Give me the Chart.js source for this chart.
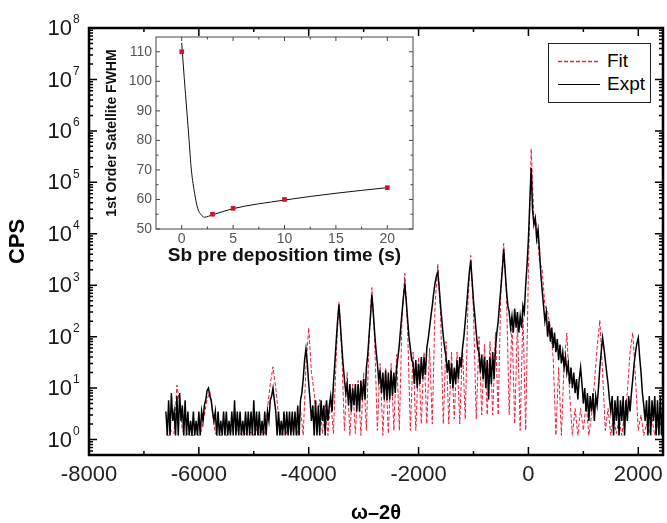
<!DOCTYPE html>
<html>
<head>
<meta charset="utf-8">
<script src="https://cdn.jsdelivr.net/npm/chart.js@4.4.0/dist/chart.umd.min.js"></script>
<style>
  html, body { margin: 0; padding: 0; background: #fff; }
  #lienzo { position: relative; width: 667px; height: 523px; overflow: hidden; }
  #principal { position: absolute; left: 0; top: 0; }
  #inserto { position: absolute; left: 100px; top: 31px; }
  #leyenda {
    position: absolute; left: 548px; top: 43px; width: 103px; height: 60px;
    box-sizing: border-box; border: 1px solid #222; background: #fff;
    font-family: "Liberation Sans", Arial, sans-serif; font-size: 19px; color: #000;
  }
  #leyenda svg { position: absolute; left: 0; top: 0; }
  #leyenda span { position: absolute; left: 58px; line-height: 20px; }
</style>
</head>
<body>
<div id="lienzo">
  <canvas id="principal" width="667" height="523"></canvas>
  <canvas id="inserto" width="320" height="239"></canvas>
  <div id="leyenda">
    <svg width="101" height="58">
      <line x1="9" y1="17.5" x2="51" y2="17.5" stroke="#e8203c" stroke-width="1.3" stroke-dasharray="4 2"/>
      <line x1="9" y1="40.5" x2="51" y2="40.5" stroke="#000" stroke-width="1"/>
    </svg>
    <span style="top:7px">Fit</span>
    <span style="top:30px">Expt</span>
  </div>
</div>
<script>
// Barrido omega-2theta: primer punto y paso de cada serie
const omegaInicio = -6600;
const pasoExpt = 25;
const pasoFit = 50;

// Cuentas medidas (Expt), cada 25 desde -6600 hasta 2450
const cuentasExpt = [
  3.5, 1.2, 5.8, 1.2, 8, 2.3, 3.5, 1.2, 7, 1.2, 8, 2.3, 4.6, 1.2, 5.8, 1.2, 3.5, 1.2, 2.3, 1.2,
  3.5, 1.2, 2.3, 1.2, 3.5, 1.2, 3.5, 2.3, 4.6, 5.8, 9, 10, 7, 5.8, 3.5, 2.3, 3.5, 1.2, 3.5, 1.2,
  2.3, 1.2, 3.5, 1.2, 3.5, 1.2, 2.3, 1.2, 3.5, 1.2, 5.8, 1.2, 3.5, 1.2, 3.5, 1.2, 2.3, 1.2, 3.5, 1.2,
  3.5, 1.2, 3.5, 1.2, 5.8, 1.2, 3.5, 1.2, 3.5, 1.2, 2.3, 1.2, 3.5, 1.2, 3.5, 2.3, 5.8, 7, 10, 5.8,
  3.5, 1.2, 3.5, 1.2, 2.3, 1.2, 3.5, 1.2, 3.5, 1.2, 3.5, 1.2, 3.5, 1.2, 3.5, 1.2, 4.6, 1.2, 5.8, 8,
  15, 35, 58, 30, 12, 5.8, 2.3, 4.6, 1.2, 5.8, 1.2, 4.6, 1.2, 5.8, 2.3, 4.6, 1.2, 5.8, 2.3, 4.6,
  7, 3.5, 12, 30, 80, 200, 420, 180, 70, 30, 15, 8, 12, 4.6, 12, 3.5, 10, 4.6, 12, 3.5,
  12, 3.5, 14, 5.8, 15, 6, 25, 45, 110, 250, 650, 300, 120, 55, 30, 14, 22, 8, 20, 6,
  22, 5.8, 20, 6, 22, 7, 20, 8, 25, 40, 70, 150, 300, 600, 1000, 500, 220, 100, 60, 35,
  30, 12, 35, 10, 30, 12, 40, 15, 40, 18, 60, 90, 150, 250, 400, 700, 1100, 1500, 1800, 900,
  400, 200, 100, 60, 40, 20, 35, 12, 30, 10, 25, 12, 35, 15, 40, 25, 60, 100, 200, 400,
  900, 1800, 3000, 1200, 500, 250, 120, 60, 50, 20, 45, 15, 40, 10, 35, 6, 40, 12, 50, 15,
  60, 120, 200, 450, 900, 2000, 5000, 2000, 800, 400, 300, 150, 250, 120, 350, 150, 300, 120, 250, 150,
  400, 300, 1000, 2500, 8000, 40000, 190000, 30000, 15000, 20000, 8000, 12000, 5000, 1700, 800, 400, 200, 300, 100, 200,
  80, 150, 60, 120, 50, 90, 35, 70, 30, 50, 25, 40, 20, 30, 12, 25, 10, 20, 8, 15,
  6, 15, 25, 12, 5, 10, 3.5, 8, 2.3, 7, 3.5, 8, 2.3, 7, 4.6, 10, 25, 50, 95, 60,
  35, 20, 12, 6, 3.5, 7, 1.2, 5.8, 2.3, 7, 1.2, 5.8, 2.3, 7, 1.2, 5.8, 2.3, 7, 3.5, 8,
  15, 30, 50, 75, 95, 40, 20, 8, 4.6, 2.3, 5.8, 1.2, 7, 1.2, 5.8, 2.3, 7, 1.2, 5.8, 1.2,
  7, 1.2, 5.8
];

// Cuentas simuladas (Fit), cada 50 desde -6600 hasta 2450
const cuentasFit = [
  1.3, 1.2, 1.5, 1.3, 11.5, 5, 1.5, 1.2, 1.3, 1.2,
  1.2, 1.3, 1.2, 1.5, 3, 6, 8.5, 3, 1.3, 1.2,
  1.2, 1.3, 1.2, 1.3, 1.5, 2.5, 1.5, 1.3, 1.2, 1.3,
  1.2, 1.4, 1.2, 1.6, 1.2, 2, 1.3, 4, 12, 26,
  10, 3, 1.2, 2, 1.3, 2, 1.4, 3, 1.2, 4,
  1.2, 25, 148, 20, 8, 1.5, 6, 1.3, 5, 1.2,
  6, 1.3, 40, 470, 60, 1.5, 20, 1.2, 12, 1.3,
  14, 1.2, 20, 1.5, 100, 900, 90, 1.5, 30, 1.2,
  25, 1.3, 30, 1.5, 45, 1.5, 250, 1700, 150, 1.5,
  50, 1.5, 40, 2, 50, 2, 60, 2, 400, 2600,
  300, 2, 80, 2, 50, 2.5, 50, 2, 60, 2.5,
  500, 3800, 300, 2.5, 100, 3, 70, 3, 80, 3,
  120, 3, 1000, 6500, 700, 3, 200, 2, 200, 1.5,
  300, 1.5, 2000, 450000, 20000, 15000, 3000, 2000, 400, 300,
  150, 40, 1.2, 25, 1.2, 30, 117, 8, 1.2, 4,
  1.2, 4, 1.5, 5, 1.2, 3, 12, 60, 210, 20,
  1.5, 4, 1.2, 3, 1.3, 2.5, 1.2, 3, 8, 50,
  120, 15, 1.5, 3, 1.2, 2, 1.3, 2.5, 1.2, 2,
  1.3, 2
];

// Marcas de los ejes del gráfico principal
const ticksX = [-8000, -6000, -4000, -2000, 0, 2000];
const ticksXMenores = [-7000, -5000, -3000, -1000, 1000];
const decadas = [1, 10, 100, 1e3, 1e4, 1e5, 1e6, 1e7, 1e8];

// Datos del recuadro: FWHM del satélite de primer orden
const tiempoSb = [0, 3, 5, 10, 20];
const fwhmSatelite = [110, 55, 57, 60, 64];
const tiempoAjuste = [0, 0.25, 0.5, 0.72, 0.94, 1.26, 1.55, 1.9, 2.2, 3, 5, 10, 15, 20];
const fwhmAjuste = [113, 101, 90, 80, 70, 62, 57, 54.8, 54, 54.8, 56.9, 59.8, 62.1, 64];
const ticksInsetX = [0, 5, 10, 15, 20];
const ticksInsetY = [50, 60, 70, 80, 90, 100, 110];

const fuente = '"Liberation Sans", Arial, sans-serif';
Chart.defaults.font.family = fuente;

function aPuntos(valores, paso) {
    return valores.map((v, i) => ({ x: omegaInicio + i * paso, y: v }));
}

// Marcas menores logarítmicas (2..9 de cada década)
function marcasLogMenores() {
    const lista = [];
    for (let e = -1; e < 8; e++) {
        for (let m = 2; m <= 9; m++) {
            const v = m * Math.pow(10, e);
            if (v >= 0.5 && v < 1e8) lista.push(v);
        }
    }
    return lista;
}

// Plugin para el marco, las marcas hacia dentro y las etiquetas 10^n
function crearPluginEjes(conf) {
    return {
        id: 'ejes',
        afterDatasetsDraw(chart) {
            const { ctx, chartArea: area, scales } = chart;
            const ex = scales.x, ey = scales.y;
            ctx.save();
            ctx.strokeStyle = conf.color;
            ctx.lineWidth = conf.anchoMarca;
            ctx.beginPath();
            const marcasX = (valores, largo) => valores.forEach((v) => {
                const px = ex.getPixelForValue(v);
                ctx.moveTo(px, area.bottom); ctx.lineTo(px, area.bottom - largo);
                ctx.moveTo(px, area.top); ctx.lineTo(px, area.top + largo);
            });
            const marcasY = (valores, largo) => valores.forEach((v) => {
                const py = ey.getPixelForValue(v);
                ctx.moveTo(area.left, py); ctx.lineTo(area.left + largo, py);
                ctx.moveTo(area.right, py); ctx.lineTo(area.right - largo, py);
            });
            marcasX(conf.xMayor, conf.largoMayor);
            marcasX(conf.xMenor, conf.largoMenor);
            marcasY(conf.yMayor, conf.largoMayor);
            marcasY(conf.yMenor, conf.largoMenor);
            ctx.stroke();
            ctx.lineWidth = conf.anchoMarco;
            ctx.strokeRect(area.left, area.top, area.right - area.left, area.bottom - area.top);

            if (conf.potencias) {
                ctx.fillStyle = '#1a1a1a';
                ctx.textBaseline = 'middle';
                conf.yMayor.forEach((v) => {
                    const py = ey.getPixelForValue(v);
                    const exp = Math.round(Math.log10(v));
                    ctx.font = '22px ' + fuente;
                    ctx.textAlign = 'right';
                    ctx.fillText('10', 72, py + 1);
                    ctx.font = '12px ' + fuente;
                    ctx.textAlign = 'left';
                    ctx.fillText(String(exp), 73, py - 8);
                });
            }
            ctx.restore();
        }
    };
}

// Gráfico principal
function crearGraficoPrincipal() {
    const ctx = document.getElementById('principal').getContext('2d');
    return new Chart(ctx, {
        type: 'line',
        data: {
            datasets: [
                {
                    label: 'Expt',
                    data: aPuntos(cuentasExpt, pasoExpt),
                    borderColor: '#000',
                    borderWidth: 1.5,
                    pointRadius: 0,
                    order: 0
                },
                {
                    label: 'Fit',
                    data: aPuntos(cuentasFit, pasoFit),
                    borderColor: '#e8203c',
                    borderWidth: 1,
                    borderDash: [4, 2],
                    pointRadius: 0,
                    order: 1
                }
            ]
        },
        options: {
            responsive: false,
            animation: false,
            events: [],
            layout: { padding: { left: 0, top: 28, right: 4, bottom: 0 } },
            plugins: { legend: { display: false }, tooltip: { enabled: false } },
            scales: {
                x: {
                    type: 'linear',
                    min: -8000,
                    max: 2450,
                    grid: { display: false, drawTicks: false },
                    border: { display: false },
                    afterBuildTicks: (eje) => { eje.ticks = ticksX.map((v) => ({ value: v })); },
                    afterFit: (eje) => { eje.height = 68; eje.paddingLeft = 0; eje.paddingRight = 0; },
                    ticks: {
                        padding: 7,
                        color: '#222',
                        autoSkip: false,
                        maxRotation: 0,
                        font: { size: 22 },
                        callback: (v) => String(v)
                    },
                    title: {
                        display: true,
                        text: 'ω–2θ',
                        color: '#000',
                        font: { size: 20, weight: 'bold', lineHeight: 1 },
                        padding: { top: 0, bottom: 0 }
                    }
                },
                y: {
                    type: 'logarithmic',
                    min: 0.5,
                    max: 1e8,
                    grid: { display: false, drawTicks: false },
                    border: { display: false },
                    ticks: { display: false },
                    afterFit: (eje) => { eje.width = 89; eje.paddingTop = 0; eje.paddingBottom = 0; },
                    title: {
                        display: true,
                        text: 'CPS',
                        color: '#000',
                        font: { size: 22, weight: 'bold', lineHeight: 1.2 },
                        padding: { top: 5, bottom: 0 }
                    }
                }
            }
        },
        plugins: [crearPluginEjes({
            color: '#000',
            anchoMarca: 1.5,
            anchoMarco: 2.5,
            largoMayor: 8,
            largoMenor: 4,
            xMayor: ticksX,
            xMenor: ticksXMenores,
            yMayor: decadas,
            yMenor: marcasLogMenores(),
            potencias: true
        })]
    });
}

// Recuadro con la FWHM frente al tiempo de predepósito de Sb
function crearGraficoInserto() {
    const ctx = document.getElementById('inserto').getContext('2d');
    return new Chart(ctx, {
        type: 'line',
        data: {
            datasets: [
                {
                    label: 'FWHM',
                    data: tiempoSb.map((t, i) => ({ x: t, y: fwhmSatelite[i] })),
                    showLine: false,
                    pointStyle: 'rect',
                    pointRadius: 3.3,
                    pointBorderWidth: 0,
                    pointBackgroundColor: '#d3122e',
                    pointBorderColor: '#d3122e'
                },
                {
                    label: 'Ajuste',
                    data: tiempoAjuste.map((t, i) => ({ x: t, y: fwhmAjuste[i] })),
                    borderColor: '#111',
                    borderWidth: 1,
                    pointRadius: 0,
                    cubicInterpolationMode: 'monotone'
                }
            ]
        },
        options: {
            responsive: false,
            animation: false,
            events: [],
            layout: { padding: { left: 0, top: 6, right: 7, bottom: 0 } },
            plugins: { legend: { display: false }, tooltip: { enabled: false } },
            scales: {
                x: {
                    type: 'linear',
                    min: -2.5,
                    max: 22.5,
                    grid: { display: false, drawTicks: false },
                    border: { display: false },
                    afterBuildTicks: (eje) => { eje.ticks = ticksInsetX.map((v) => ({ value: v })); },
                    afterFit: (eje) => { eje.height = 41; eje.paddingLeft = 0; eje.paddingRight = 0; },
                    ticks: { padding: 2, color: '#555', autoSkip: false, maxRotation: 0, font: { size: 14 } },
                    title: {
                        display: true,
                        text: 'Sb pre deposition time (s)',
                        color: '#111',
                        font: { size: 19, weight: 'bold', lineHeight: 1.2 },
                        padding: { top: 0, bottom: 3 }
                    }
                },
                y: {
                    type: 'linear',
                    min: 50,
                    max: 115,
                    grid: { display: false, drawTicks: false },
                    border: { display: false },
                    afterBuildTicks: (eje) => { eje.ticks = ticksInsetY.map((v) => ({ value: v })); },
                    afterFit: (eje) => { eje.width = 56; eje.paddingTop = 0; eje.paddingBottom = 0; },
                    ticks: { padding: 4, color: '#555', font: { size: 14 } },
                    title: {
                        display: true,
                        text: '1st Order Satellite FWHM',
                        color: '#111',
                        font: { size: 14, weight: 'bold', lineHeight: 1.2 },
                        padding: { top: 4, bottom: 0 }
                    }
                }
            }
        },
        plugins: [crearPluginEjes({
            color: '#444',
            anchoMarca: 1,
            anchoMarco: 1,
            largoMayor: 4,
            largoMenor: 2.5,
            xMayor: ticksInsetX,
            xMenor: [2.5, 7.5, 12.5, 17.5],
            yMayor: ticksInsetY,
            yMenor: [55, 65, 75, 85, 95, 105],
            potencias: false
        })]
    });
}

document.addEventListener('DOMContentLoaded', () => {
    crearGraficoPrincipal();
    crearGraficoInserto();
});
</script>
</body>
</html>
